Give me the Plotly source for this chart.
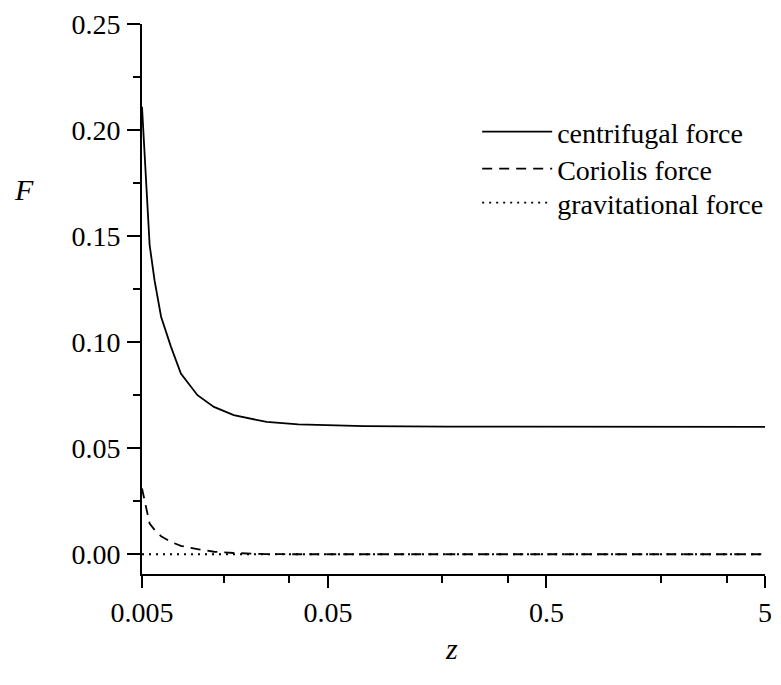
import math
import plotly.graph_objects as go

# data
z = [0.00705, 0.00764, 0.00805, 0.00862, 0.00957, 0.01062, 0.01265, 0.01504,
     0.01853, 0.0217, 0.0262, 0.0366, 0.0733, 0.1745, 0.5, 1.5, 5.0]
centrifugal = [0.211, 0.1458, 0.129, 0.112, 0.0978, 0.0852, 0.075, 0.0695,
               0.0656, 0.064, 0.0624, 0.0612, 0.0604, 0.0602, 0.0601, 0.0601, 0.0601]
coriolis = [0.031, 0.0145, 0.0115, 0.0085, 0.0058, 0.0040, 0.0024, 0.0012,
            0.0006, 0.0003, 0.0001, 0.0, 0.0, 0.0, 0.0, 0.0, 0.0]
gravitational = [0.0] * len(z)

x_tickvals = [0.00705, 0.05, 0.5, 5]
x_ticktext = ["0.005", "0.05", "0.5", "5"]
x_minor = [0.0167, 0.0333, 0.167, 0.333, 1.667, 3.333]
y_tickvals = [0.0, 0.05, 0.10, 0.15, 0.20, 0.25]

FONT = "Liberation Serif, Times New Roman, serif"
FS = 28

fig = go.Figure()
fig.add_trace(go.Scatter(x=z, y=centrifugal, mode="lines", name="centrifugal force",
                         legend="legend",
                         line=dict(color="black", width=1.8, dash="solid")))
fig.add_trace(go.Scatter(x=z, y=coriolis, mode="lines", name="Coriolis force",
                         legend="legend2",
                         line=dict(color="black", width=1.8, dash="10px,7px")))
fig.add_trace(go.Scatter(x=z, y=gravitational, mode="lines", name="gravitational force",
                         legend="legend3",
                         line=dict(color="black", width=1.8, dash="2px,5px")))

W, H = 781, 685
L, R, T, B = 142, 9, 24, 111
pw, ph = W - L - R, H - T - B


def px_to_paper(px, py):
    return (px - L) / pw, 1 - (py - T) / ph


fx, fy = px_to_paper(23, 189)
zx, zy = px_to_paper(455, 648)


def legend_at(top_px):
    return dict(x=0.538, y=1 - (top_px - T) / ph, xanchor="left", yanchor="top",
                bgcolor="rgba(0,0,0,0)", itemwidth=70,
                font=dict(family=FONT, size=FS, color="black"))


fig.update_layout(
    width=W, height=H,
    margin=dict(l=L, r=R, t=T, b=B),
    paper_bgcolor="white", plot_bgcolor="white",
    font=dict(family=FONT, size=FS, color="black"),
    showlegend=True,
    legend=legend_at(107),
    legend2=legend_at(144),
    legend3=legend_at(178),
    xaxis=dict(type="log", range=[math.log10(0.00705), math.log10(5)],
               tickmode="array", tickvals=x_tickvals, ticktext=x_ticktext,
               ticks="outside", ticklen=12, tickwidth=2, tickcolor="black",
               showline=True, linecolor="black", linewidth=2,
               showgrid=False, zeroline=False,
               minor=dict(tickvals=x_minor, ticks="outside", ticklen=7,
                          tickwidth=2, tickcolor="black", showgrid=False),
               tickfont=dict(family=FONT, size=FS)),
    yaxis=dict(range=[-0.0093, 0.25],
               tickmode="array", tickvals=y_tickvals, tickformat=".2f",
               ticks="outside", ticklen=13, tickwidth=2, tickcolor="black",
               showline=True, linecolor="black", linewidth=2,
               showgrid=False, zeroline=False, ticklabelstandoff=1,
               minor=dict(dtick=0.025, ticks="outside", ticklen=7,
                          tickwidth=2, tickcolor="black", showgrid=False),
               tickfont=dict(family=FONT, size=FS)),
    annotations=[
        dict(text="<i>F</i>", x=fx, y=fy, xref="paper", yref="paper", showarrow=False,
             xanchor="center", yanchor="middle", font=dict(family=FONT, size=30)),
        dict(text="<i>z</i>", x=zx, y=zy, xref="paper", yref="paper", showarrow=False,
             xanchor="center", yanchor="middle", font=dict(family=FONT, size=30)),
    ],
)
fig.write_html("out.html")
